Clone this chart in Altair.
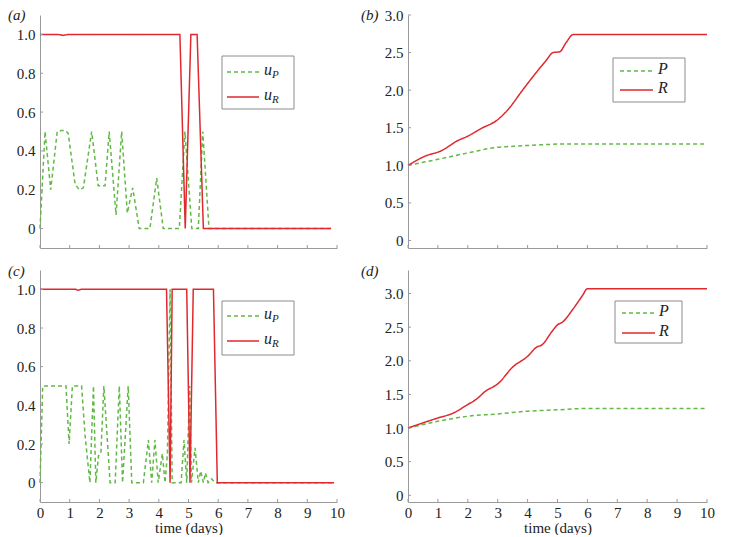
import altair as alt
import pandas as pd

# ---------------- data ----------------
# panel (a): controls
a_uP_t = [0, 0.17, 0.36, 0.58, 0.72, 0.86, 0.95, 1.18, 1.32, 1.46, 1.74, 1.96, 2.19,
          2.33, 2.56, 2.75, 2.94, 3.12, 3.34, 3.70, 3.93, 4.15, 4.69, 4.88, 5.11,
          5.33, 5.48, 5.69, 9.8]
a_uP_v = [0, 0.5, 0.2, 0.5, 0.505, 0.505, 0.49, 0.23, 0.2, 0.21, 0.5, 0.22, 0.22,
          0.5, 0.07, 0.5, 0.08, 0.21, 0, 0, 0.26, 0, 0, 0.5, 0,
          0, 0.5, 0, 0]
a_uR_t = [0, 0.6, 0.78, 0.95, 4.71, 4.89, 5.08, 5.29, 5.50, 9.8]
a_uR_v = [1, 1, 0.995, 1, 1, 0, 1, 1, 0, 0]

# panel (b): states
b_R_t = [0, 0.56, 1.12, 1.67, 2.01, 2.45, 3.01, 3.34, 3.85, 4.18, 4.63, 4.85, 5.07,
         5.30, 5.52, 10]
b_R_v = [1.0, 1.12, 1.195, 1.33, 1.39, 1.49, 1.61, 1.74, 2.01, 2.18, 2.40, 2.50, 2.51,
         2.64, 2.74, 2.74]
b_P_t = [0, 1.12, 2.06, 3.0, 3.4, 4.29, 5.4, 10]
b_P_v = [1.0, 1.09, 1.17, 1.24, 1.25, 1.27, 1.285, 1.285]

# panel (c): controls
c_uP_t = [0, 0.09, 0.875, 0.98, 1.09, 1.40, 1.52, 1.68, 1.80, 1.88, 1.97, 2.05, 2.15,
          2.36, 2.53, 2.67, 2.78, 2.97, 3.09, 3.48, 3.65, 3.76, 3.87, 3.98, 4.12,
          4.21, 4.29, 4.38, 4.45, 4.75, 4.85, 4.94, 5.04, 5.10, 5.22, 5.33, 5.41,
          5.50, 5.57, 5.66, 5.78, 5.89, 9.9]
c_uP_v = [0, 0.5, 0.5, 0.2, 0.5, 0.5, 0.24, 0, 0.5, 0, 0.14, 0.15, 0.5,
          0, 0, 0.5, 0, 0.5, 0, 0, 0.22, 0, 0.22, 0, 0.15,
          0, 0.15, 1.0, 0, 0, 0.22, 0, 0.5, 0, 0.18, 0, 0.06,
          0, 0.05, 0, 0.02, 0, 0]
c_uR_t = [0, 1.2, 1.29, 1.38, 4.26, 4.38, 4.45, 4.94, 5.05, 5.16, 5.84, 5.97, 9.9]
c_uR_v = [1, 1, 0.995, 1, 1, 0, 1, 1, 0, 1, 1, 0, 0]

# panel (d): states
d_R_t = [0, 1.0, 1.5, 2.0, 2.29, 2.57, 3.01, 3.51, 4.01, 4.29, 4.49, 4.79, 4.99,
         5.18, 5.52, 5.85, 5.99, 10]
d_R_v = [1.0, 1.15, 1.22, 1.35, 1.43, 1.54, 1.66, 1.91, 2.07, 2.20, 2.24, 2.42, 2.53,
         2.58, 2.77, 2.98, 3.07, 3.07]
d_P_t = [0, 1, 2, 3, 4, 4.95, 5.95, 10]
d_P_v = [1.0, 1.10, 1.175, 1.21, 1.25, 1.27, 1.29, 1.29]

x_ticks = list(range(0, 11))
y_ticks_u = [0, 0.2, 0.4, 0.6, 0.8, 1.0]
y_ticks_s = [0, 0.5, 1.0, 1.5, 2.0, 2.5, 3.0]

# ---------------- styles ----------------
RED = "#e0282e"
GREEN = "#62b946"
AXIS = "#9a9a9a"
TEXT = "#222222"
FONT = "Liberation Serif"
one = pd.DataFrame({"k": [0]})


def legend_layers(box, rows, line_x, text_x, names, subs):
    x0, x1, y0, y1 = box
    out = [alt.Chart(one).mark_rect(fill="white", stroke="#8c8c8c", strokeWidth=1).encode(
        x=alt.value(x0), x2=alt.value(x1), y=alt.value(y0), y2=alt.value(y1))]
    styles = [(GREEN, [4, 3]), (RED, [1, 0])]
    for (yy, (col, dash), nm, sb) in zip(rows, styles, names, subs):
        out.append(alt.Chart(one).mark_rule(color=col, strokeDash=dash, strokeWidth=1.5).encode(
            x=alt.value(line_x[0]), x2=alt.value(line_x[1]), y=alt.value(yy)))
        out.append(alt.Chart(one).mark_text(font=FONT, fontStyle="italic", fontSize=16,
                                            color=TEXT, align="left", baseline="middle").encode(
            x=alt.value(text_x), y=alt.value(yy - 2), text=alt.value(nm)))
        if sb:
            out.append(alt.Chart(one).mark_text(font=FONT, fontStyle="italic", fontSize=11,
                                                color=TEXT, align="left", baseline="middle").encode(
                x=alt.value(text_x + 8), y=alt.value(yy + 3), text=alt.value(sb)))
    return out


def panel(series, ydom, yticks, w, h, label, legend, bottom, interp):
    xscale = alt.Scale(domain=[0, 10], nice=False, zero=False)
    yscale = alt.Scale(domain=ydom, nice=False, zero=False)
    xkw = dict(values=x_ticks, labels=bottom, ticks=False, tickSize=0, domainColor=AXIS,
               domainWidth=1, labelFont=FONT, labelFontSize=15, labelColor=TEXT,
               labelPadding=3, labelFlush=False, grid=False, format="d",
               titleFont=FONT, titleFontSize=15, titleFontWeight="normal",
               titleColor=TEXT, titlePadding=0)
    xkw["title"] = "time (days)" if bottom else None
    xaxis = alt.Axis(**xkw)
    yaxis = alt.Axis(values=yticks, ticks=False, tickSize=0, domainColor=AXIS, domainWidth=1,
                     labelExpr="datum.value == 0 ? '0' : format(datum.value, '.1f')",
                     labelFont=FONT, labelFontSize=15, labelColor=TEXT, labelPadding=5,
                     grid=False, title=None)
    layers = []
    for t, v, col, dash in series:
        df = pd.DataFrame({"t": t, "v": v})
        layers.append(alt.Chart(df).mark_line(color=col, strokeDash=dash, strokeWidth=1.5,
                                              interpolate=interp).encode(
            x=alt.X("t:Q", scale=xscale, axis=xaxis),
            y=alt.Y("v:Q", scale=yscale, axis=yaxis)))
    # inward ticks
    layers.append(alt.Chart(pd.DataFrame({"t": x_ticks})).mark_rule(color=AXIS).encode(
        x=alt.X("t:Q", scale=xscale, axis=xaxis), y=alt.value(h), y2=alt.value(h - 3)))
    layers.append(alt.Chart(pd.DataFrame({"v": yticks})).mark_rule(color=AXIS).encode(
        y=alt.Y("v:Q", scale=yscale, axis=yaxis), x=alt.value(0), x2=alt.value(3)))
    layers += legend_layers(**legend)
    layers.append(alt.Chart(one).mark_text(font=FONT, fontStyle="italic", fontSize=15,
                                           color=TEXT, align="left", baseline="top").encode(
        x=alt.value(label[1]), y=alt.value(label[2]), text=alt.value(label[0])))
    return alt.layer(*layers).properties(width=w, height=h)


pa = panel([(a_uP_t, a_uP_v, GREEN, [4, 3]), (a_uR_t, a_uR_v, RED, [1, 0])],
           [-0.1, 1.1], y_ticks_u, 297, 233, ("(a)", -32, -7),
           dict(box=(182, 254, 41, 94), rows=(57, 82), line_x=(187, 219), text_x=224,
                names=("u", "u"), subs=("P", "R")), False, "linear")
pb = panel([(b_P_t, b_P_v, GREEN, [4, 3]), (b_R_t, b_R_v, RED, [1, 0])],
           [-0.1, 3.0], y_ticks_s, 299, 233, ("(b)", -47, -7),
           dict(box=(205, 277, 43, 87), rows=(56, 75), line_x=(212, 245), text_x=250,
                names=("P", "R"), subs=(None, None)), False, "monotone")
pc = panel([(c_uP_t, c_uP_v, GREEN, [4, 3]), (c_uR_t, c_uR_v, RED, [1, 0])],
           [-0.1, 1.1], y_ticks_u, 297, 232, ("(c)", -32, -6),
           dict(box=(182, 254, 31, 85), rows=(46, 71), line_x=(187, 219), text_x=224,
                names=("u", "u"), subs=("P", "R")), True, "linear")
pd_ = panel([(d_P_t, d_P_v, GREEN, [4, 3]), (d_R_t, d_R_v, RED, [1, 0])],
            [-0.1, 3.35], y_ticks_s, 299, 232, ("(d)", -47, -6),
            dict(box=(207, 274, 31, 73), rows=(43, 63), line_x=(214, 247), text_x=251,
                 names=("P", "R"), subs=(None, None)), True, "monotone")

chart = alt.concat(pa, pb, pc, pd_, columns=2, spacing={"row": 22, "column": 71},
                   bounds="flush").properties(padding=0).configure_view(stroke=None)

chart.save("out.html", embed_options={"renderer": "svg", "actions": False})
